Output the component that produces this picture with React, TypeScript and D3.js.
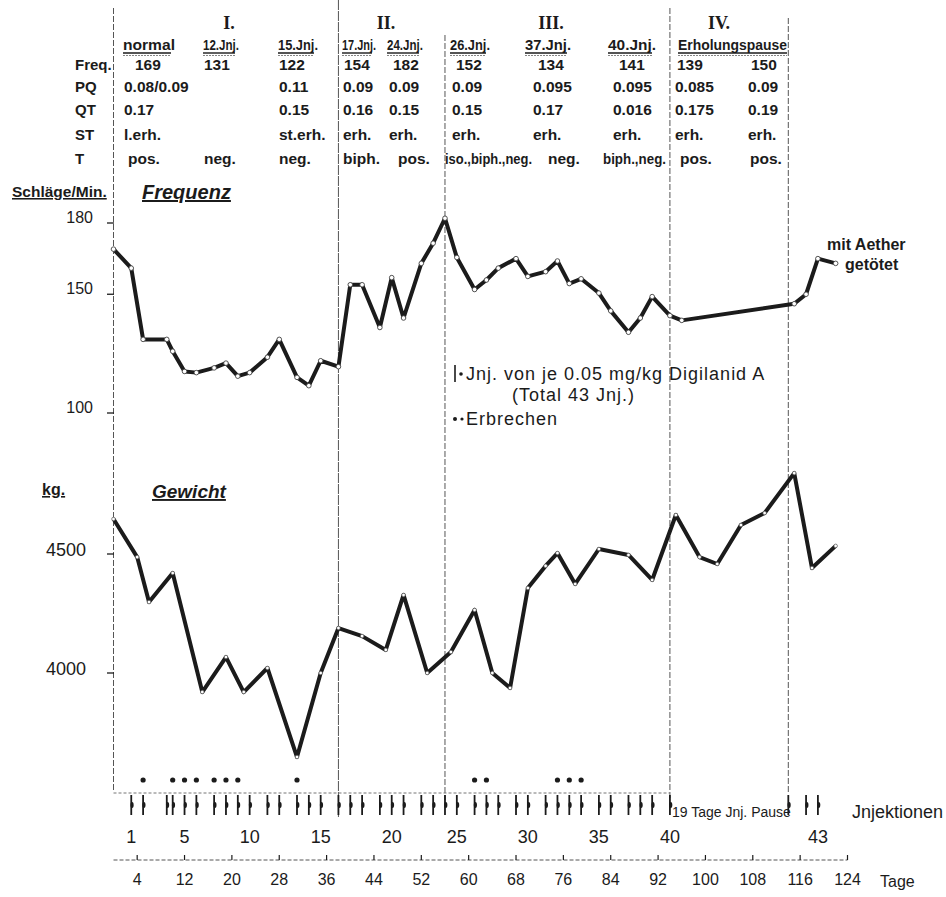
import React from 'react';
import * as d3 from 'd3';

// ---------- data ----------
const freqDays = [0, 3, 5, 9, 10, 12, 14, 17, 19, 21, 23, 26, 28, 31, 33, 35, 38, 40, 42, 45, 47, 49, 52, 54, 56, 58, 61, 63, 65, 68, 70, 73, 75, 77, 79, 82, 84, 87, 89, 91, 94, 96, 115, 117, 119, 122];
const freqValues = [169, 161, 131, 131, 126, 117.5, 117, 119, 121, 115.5, 117, 123.5, 131, 115, 111.5, 122, 119.5, 154, 154, 136, 157, 140, 163, 171.5, 182, 165.5, 152, 156, 161, 165, 157.5, 159.5, 164, 154.5, 156.5, 150.5, 143, 134, 140, 149, 141, 139, 146, 150, 165, 163];

const weightDays = [0, 4, 6, 10, 15, 19, 22, 26, 31, 35, 38, 42, 46, 49, 53, 57, 61, 64, 67, 70, 73, 75, 78, 82, 87, 91, 95, 99, 102, 106, 110, 115, 118, 122];
const weightValues = [4647, 4487, 4298, 4420, 3920, 4067, 3920, 4021, 3647, 4000, 4189, 4155, 4097, 4328, 4000, 4088, 4265, 4000, 3937, 4357, 4450, 4504, 4374, 4521, 4496, 4391, 4664, 4487, 4458, 4622, 4672, 4840, 4441, 4534];

const injectionDays = [3, 5, 9, 10, 12, 14, 17, 19, 21, 23, 26, 28, 31, 33, 35, 38, 40, 42, 45, 47, 49, 52, 54, 56, 58, 61, 63, 65, 68, 70, 73, 75, 77, 79, 82, 84, 87, 89, 91, 94, 114, 117, 119];
const vomitDays = [5, 10, 12, 14, 17, 19, 21, 31, 61, 63, 75, 77, 79];
const injectionLabels = [1, 5, 10, 15, 20, 25, 30, 35, 40, 43];
const dayTicks = [4, 12, 20, 28, 36, 44, 52, 60, 68, 76, 84, 92, 100, 108, 116, 124];
const freqTicks = [180, 150, 100];
const weightTicks = [4500, 4000];
const phaseDays = [0, 38, 56, 94, 114];

const phaseLabels = ['I.', 'II.', 'III.', 'IV.'];
const columnHeaders = ['normal', '12.Jnj.', '15.Jnj.', '17.Jnj.', '24.Jnj.', '26.Jnj.', '37.Jnj.', '40.Jnj.', 'Erholungspause'];
const rowLabels = ['Freq.', 'PQ', 'QT', 'ST', 'T'];
const rowFreq = ['169', '131', '122', '154', '182', '152', '134', '141', '139', '150'];
const rowPQ = ['0.08/0.09', '', '0.11', '0.09', '0.09', '0.09', '0.095', '0.095', '0.085', '0.09'];
const rowQT = ['0.17', '', '0.15', '0.16', '0.15', '0.15', '0.17', '0.016', '0.175', '0.19'];
const rowST = ['l.erh.', '', 'st.erh.', 'erh.', 'erh.', 'erh.', 'erh.', 'erh.', 'erh.', 'erh.'];
const rowT = ['pos.', 'neg.', 'neg.', 'biph.', 'pos.', 'iso.,biph.,neg.', 'neg.', 'biph.,neg.', 'pos.', 'pos.'];

// ---------- layout ----------
const W = 946;
const H = 897;
const INK = '#1b1b1b';
const FONT = '"Liberation Sans", Arial, sans-serif';
const SERIF = '"Liberation Serif", "DejaVu Serif", serif';

const phaseLabelX = [229, 386, 551, 719];
const headerX = [123, 203, 278, 342, 387, 450, 525, 608, 678];
const headerLen = [52, 36, 40, 34, 36, 40, 46, 48, 109];
const colX = [124, 204, 279, 343, 389, 452, 533, 613, 675, 748];
const colXT = [128, 204, 279, 343, 398, 445, 548, 603, 680, 750];
const colXFreq = [135, 204, 279, 344, 393, 456, 538, 619, 677, 751];
const rowY = [70, 92, 115, 140, 164];
const sepTop = [8, 0, 35, 8, 18];
const sepBottom = [792, 817, 800, 800, 792];

export default function App() {
  const x = d3.scaleLinear().domain([0, 124]).range([113.5, 847.5]);
  const yF = d3.scaleLinear().domain([100, 180]).range([413, 223]);
  const yW = d3.scaleLinear().domain([4000, 4500]).range([673, 554]);

  const freqPts: [number, number][] = freqDays.map((d, i) => [x(d), yF(freqValues[i])]);
  const weightPts: [number, number][] = weightDays.map((d, i) => [x(d), yW(weightValues[i])]);
  const line = d3.line();

  const rows = [rowFreq, rowPQ, rowQT, rowST, rowT];

  const cellLength = (ri: number, ci: number): number | undefined => {
    if (ri === 4 && ci === 5) return 87;
    if (ri === 4 && ci === 7) return 63;
    return undefined;
  };

  return (
    <svg width={W} height={H} viewBox={`0 0 ${W} ${H}`}
      style={{ position: 'absolute', left: 0, top: 0, background: '#fff' }}
      fontFamily={FONT}>
      <rect x={0} y={0} width={W} height={H} fill="#fff" />

      {/* phase separators */}
      {phaseDays.map((d, i) => (
        <line key={'sep' + i} x1={x(d)} x2={x(d)} y1={sepTop[i]} y2={sepBottom[i]}
          stroke="#555" strokeWidth={1} strokeDasharray={i === 1 ? '10,1' : '6,2'} />
      ))}

      {/* table */}
      {phaseLabels.map((p, i) => (
        <text key={'ph' + i} x={phaseLabelX[i]} y={29} textAnchor="middle" fontFamily={SERIF}
          fontWeight="bold" fontSize={18} fill={INK}>{p}</text>
      ))}
      {columnHeaders.map((h, i) => (
        <g key={'hd' + i}>
          <text x={headerX[i]} y={50} fontSize={15} fontWeight="bold" fill={INK}
            textLength={headerLen[i]} lengthAdjust="spacingAndGlyphs">{h}</text>
          <line x1={headerX[i]} x2={headerX[i] + headerLen[i] - (i === 8 ? 0 : 4)} y1={53} y2={53}
            stroke={INK} strokeWidth={1.4} />
          <line x1={headerX[i]} x2={headerX[i] + headerLen[i] - (i === 8 ? 0 : 4)} y1={55.5} y2={55.5}
            stroke="#666" strokeWidth={0.8} strokeDasharray="2,1" />
        </g>
      ))}
      {rowLabels.map((r, i) => (
        <text key={'rl' + i} x={75} y={rowY[i]} fontSize={15} fontWeight="bold" fill={INK}>{r}</text>
      ))}
      {rows.map((row, ri) =>
        row.map((v, ci) => v ? (
          <text key={`c${ri}-${ci}`} x={ri === 4 ? colXT[ci] : ri === 0 ? colXFreq[ci] : colX[ci]} y={rowY[ri]}
            fontSize={15.5} fontWeight="bold" fill={INK}
            textLength={cellLength(ri, ci)} lengthAdjust={cellLength(ri, ci) ? 'spacingAndGlyphs' : undefined}>{v}</text>
        ) : null)
      )}

      {/* axis titles */}
      <text x={12} y={197} fontSize={15.5} fontWeight="bold" fill={INK}
        style={{ textDecoration: 'underline' }}>Schläge/Min.</text>
      <text x={142} y={199} fontSize={20} fontWeight="bold" fontStyle="italic" fill={INK}
        style={{ textDecoration: 'underline' }}>Frequenz</text>
      <text x={42} y={495} fontSize={16} fontWeight="bold" fill={INK}
        style={{ textDecoration: 'underline' }}>kg.</text>
      <text x={152} y={498} fontSize={19} fontWeight="bold" fontStyle="italic" fill={INK}
        style={{ textDecoration: 'underline' }}>Gewicht</text>

      {/* y ticks */}
      {freqTicks.map((t) => (
        <g key={'ft' + t}>
          <line x1={107} x2={114} y1={yF(t)} y2={yF(t)} stroke={INK} strokeWidth={1.3} />
          <text x={93} y={yF(t)} textAnchor="end" fontSize={16} fill={INK}>{t}</text>
        </g>
      ))}
      {weightTicks.map((t) => (
        <g key={'wt' + t}>
          <line x1={107} x2={114} y1={yW(t)} y2={yW(t)} stroke={INK} strokeWidth={1.3} />
          <text x={86} y={yW(t) + 2} textAnchor="end" fontSize={18} fill={INK}>{t}</text>
        </g>
      ))}

      {/* frequency line */}
      <path d={line(freqPts) || ''} fill="none" stroke={INK} strokeWidth={4} strokeLinejoin="round" />
      {freqPts.map((p, i) => (
        <circle key={'fp' + i} cx={p[0]} cy={p[1]} r={2.3} fill="#fff" stroke="#444" strokeWidth={0.9} />
      ))}

      {/* weight line */}
      <path d={line(weightPts) || ''} fill="none" stroke={INK} strokeWidth={4} strokeLinejoin="round" />
      {weightPts.map((p, i) => (
        <circle key={'wp' + i} cx={p[0]} cy={p[1]} r={1.8} fill="#fff" stroke="#555" strokeWidth={0.7} />
      ))}

      {/* annotations */}
      <text x={827} y={250} fontSize={16} fontWeight="bold" fill={INK}>mit Aether</text>
      <text x={845} y={270} fontSize={16} fontWeight="bold" fill={INK}>getötet</text>

      <line x1={455} x2={455} y1={365} y2={382} stroke={INK} strokeWidth={1.6} />
      <circle cx={461} cy={374} r={1.8} fill={INK} />
      <text x={466} y={380} fontSize={18} letterSpacing={1} fill={INK}>Jnj. von je 0.05 mg/kg Digilanid A</text>
      <text x={512} y={401} fontSize={18} letterSpacing={1} fill={INK}>(Total  43 Jnj.)</text>
      <circle cx={455} cy={419} r={2} fill={INK} />
      <circle cx={462} cy={419} r={1.6} fill={INK} />
      <text x={466} y={425} fontSize={18} letterSpacing={1} fill={INK}>Erbrechen</text>

      {/* vomiting */}
      {vomitDays.map((d, i) => (
        <circle key={'v' + i} cx={x(d)} cy={780} r={2.6} fill={INK} />
      ))}

      {/* injections */}
      <line x1={x(0)} x2={x(94)} y1={793} y2={793} stroke="#777" strokeWidth={1} strokeDasharray="3,2" />
      {injectionDays.map((d, i) => (
        <g key={'inj' + i}>
          <line x1={x(d)} x2={x(d)} y1={795} y2={815} stroke={INK} strokeWidth={1.8} />
          <ellipse cx={x(d) + 0.8} cy={805} rx={1.6} ry={3} fill={INK} />
        </g>
      ))}
      <text x={672} y={817} fontSize={14} fill={INK}>19 Tage Jnj. Pause</text>
      <text x={852} y={818} fontSize={18} fill={INK}>Jnjektionen</text>
      {injectionLabels.map((n) => (
        <text key={'il' + n} x={x(injectionDays[n - 1])} y={843} textAnchor="middle" fontSize={18} fill={INK}>{n}</text>
      ))}

      {/* days axis */}
      <line x1={x(0)} x2={x(124)} y1={860} y2={860} stroke="#555" strokeWidth={1} strokeDasharray="4,2" />
      {dayTicks.map((t) => (
        <g key={'dt' + t}>
          <line x1={x(t)} x2={x(t)} y1={855} y2={860} stroke={INK} strokeWidth={1.2} />
          <text x={x(t)} y={885} textAnchor="middle" fontSize={16} fill={INK}>{t}</text>
        </g>
      ))}
      <text x={880} y={887} fontSize={16} fill={INK}>Tage</text>
    </svg>
  );
}
